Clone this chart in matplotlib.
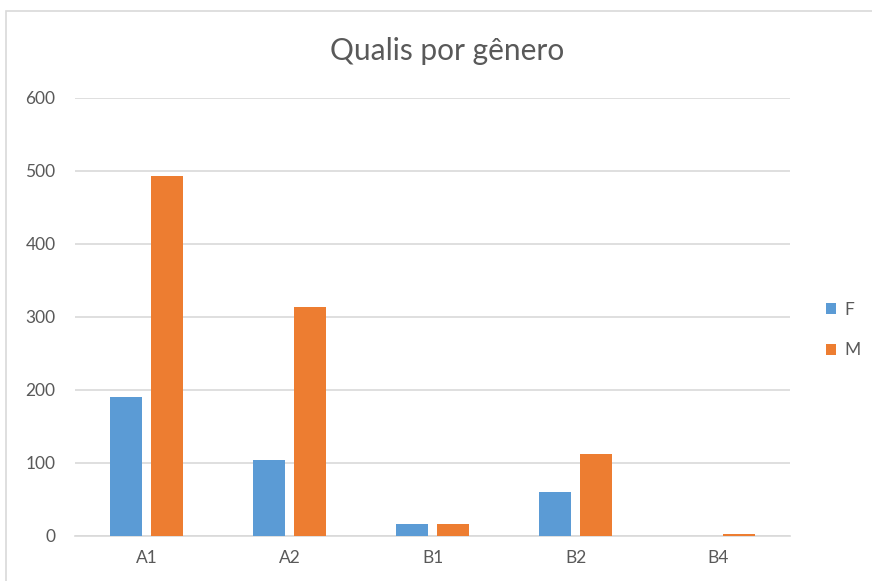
import numpy as np
import matplotlib.pyplot as plt
from matplotlib.patches import Rectangle

categorias = ['A1', 'A2', 'B1', 'B2', 'B4']
feminino = [190, 104, 16, 60, 0]
masculino = [493, 314, 16, 112, 3]

cor_f = '#5b9bd5'
cor_m = '#ed7d31'
cinza = '#595959'

plt.rcParams['font.family'] = ['Lato', 'DejaVu Sans']

fig = plt.figure(figsize=(8.72, 5.81), dpi=100)
ax = fig.add_axes([75 / 872, 1 - 536 / 581, 715 / 872, 438 / 581])

# moldura do gráfico
fig.patches.append(Rectangle((6 / 872, -0.01), 1.0, 1 - 11 / 581 + 0.01,
                             transform=fig.transFigure, fill=False,
                             edgecolor='#d9d9d9', linewidth=1.2))

x = np.arange(len(categorias))
largura = 0.224
ax.bar(x - 0.143, feminino, largura, color=cor_f, label='F', zorder=3)
ax.bar(x + 0.143, masculino, largura, color=cor_m, label='M', zorder=3)

ax.set_xlim(-0.5, len(categorias) - 0.5)
ax.set_ylim(0, 600)
ax.set_yticks(range(0, 601, 100))
ax.set_xticks(x)
ax.set_xticklabels(categorias)
ax.yaxis.grid(True, color='#d9d9d9', linewidth=1.2, zorder=0)
for s in ax.spines.values():
    s.set_visible(False)
ax.spines['bottom'].set_visible(True)
ax.spines['bottom'].set_color('#d9d9d9')
ax.spines['bottom'].set_linewidth(1.2)
ax.tick_params(length=0, labelsize=12.5, labelcolor=cinza)
ax.tick_params(axis='y', pad=14)
ax.tick_params(axis='x', pad=10)

fig.text(447 / 872, 1 - 51 / 581, 'Qualis por gênero', ha='center', va='center',
         fontsize=21.5, color=cinza)

fig.legend(loc='center left', bbox_to_anchor=(810 / 872, 1 - 330 / 581),
           frameon=False, fontsize=12.5, labelcolor=cinza, handlelength=0.6,
           handleheight=0.6, handletextpad=0.5, labelspacing=1.4)

fig.savefig('out.png', dpi=100)
